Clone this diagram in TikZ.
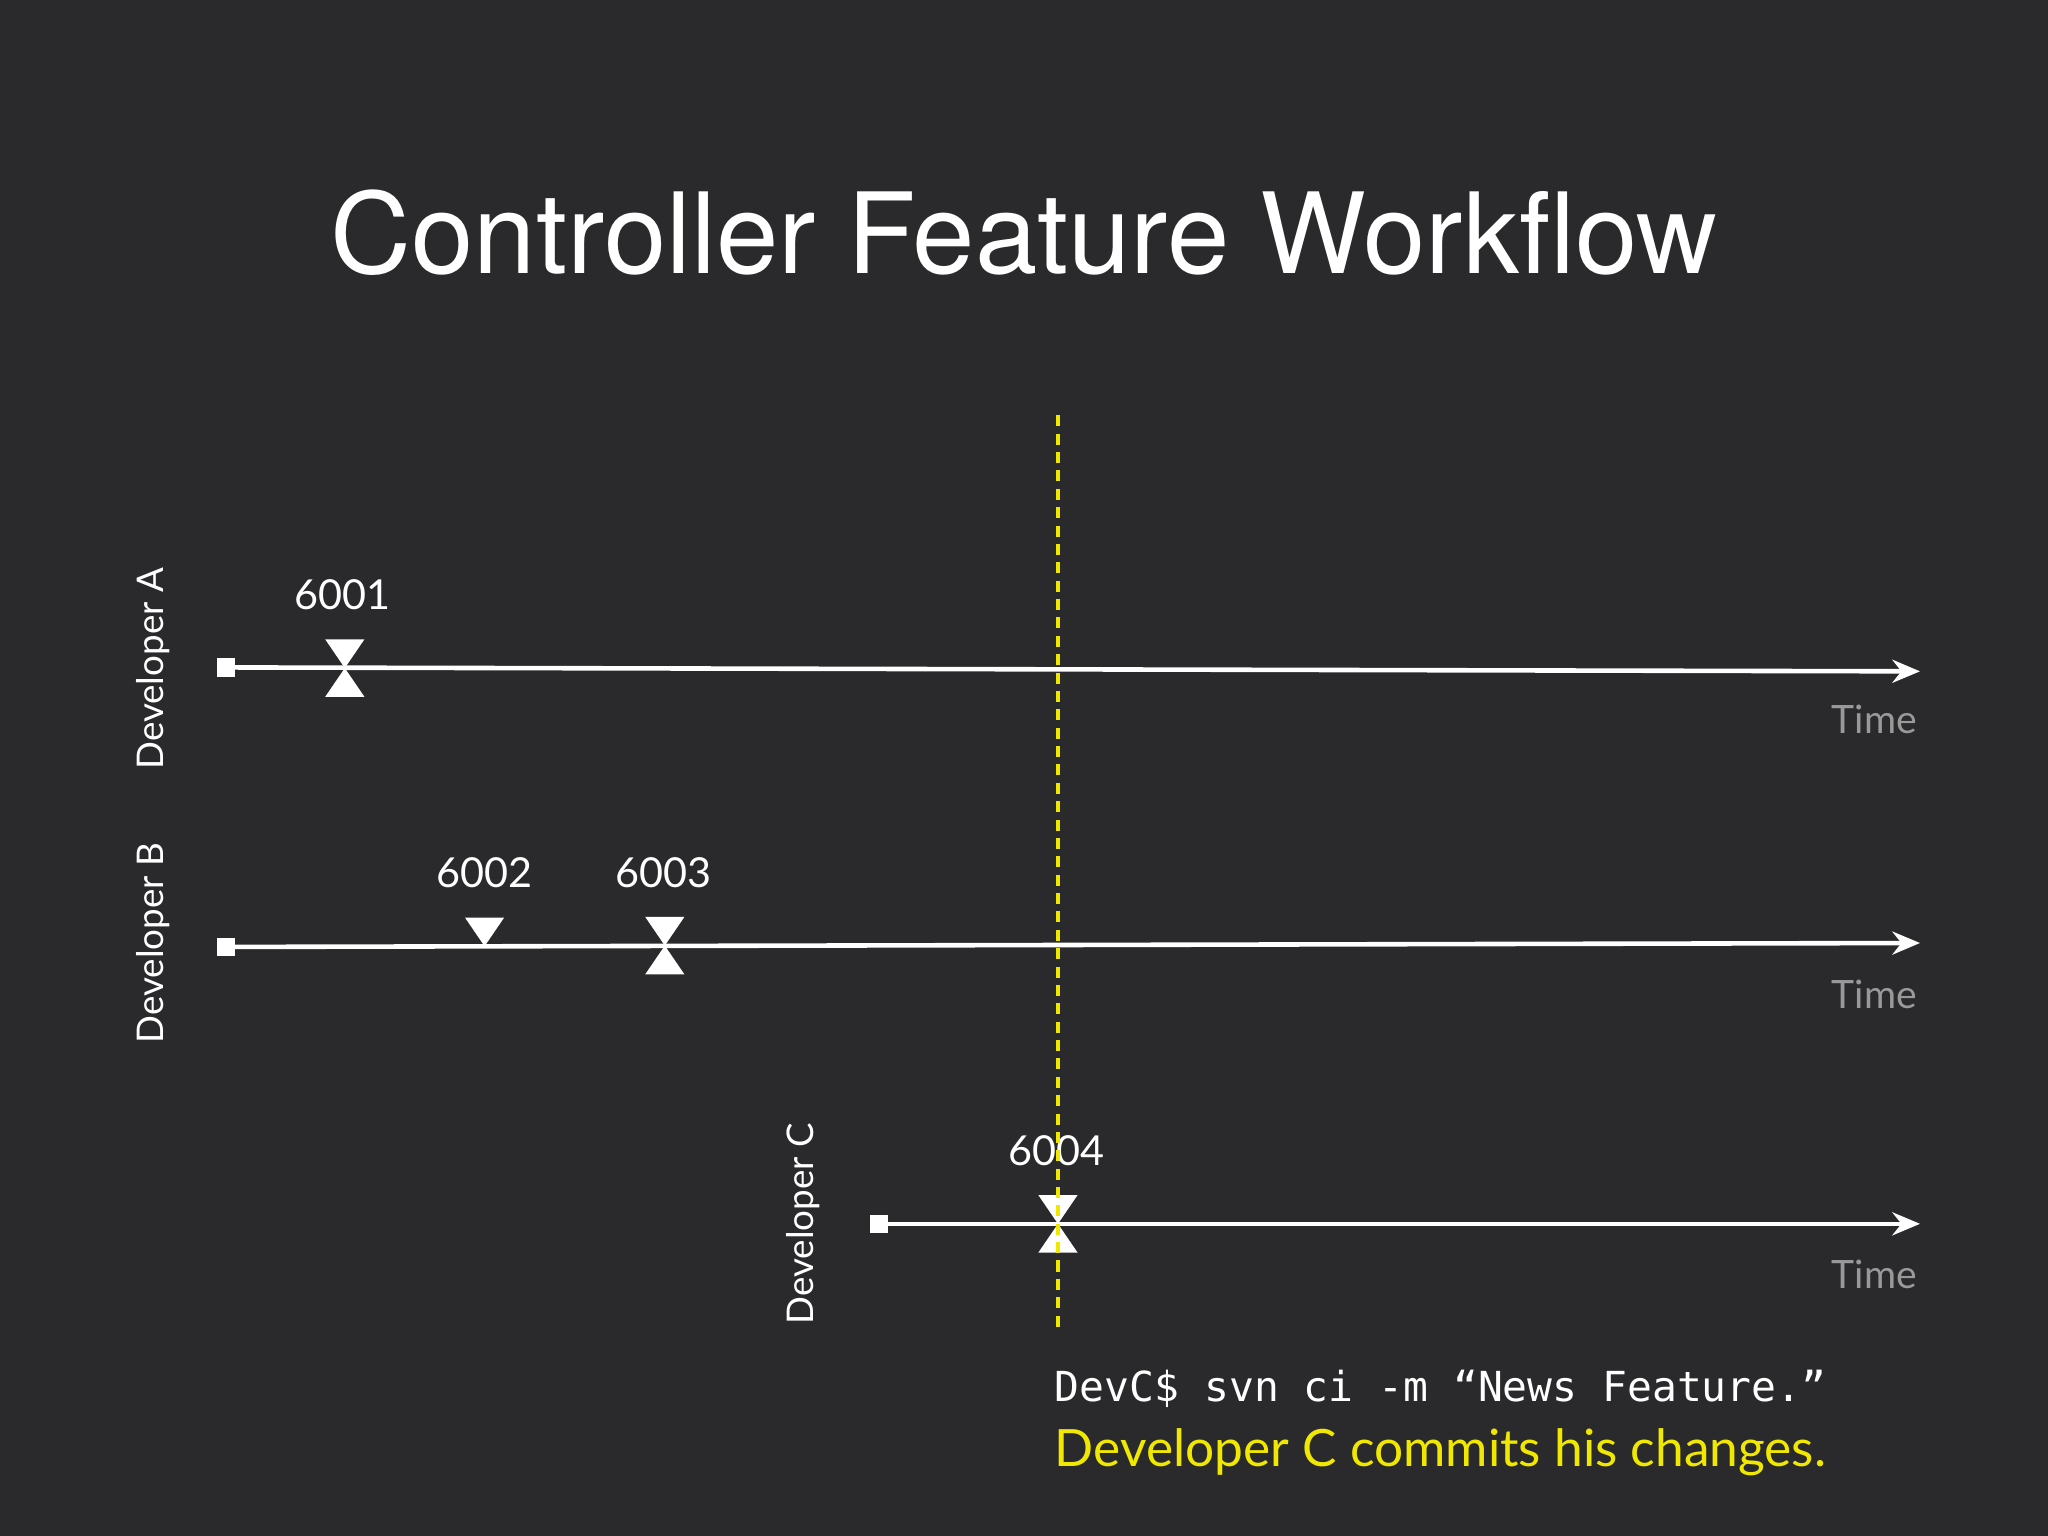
\documentclass[tikz,border=0pt]{standalone}
\usepackage{fontspec}
\usetikzlibrary{arrows.meta}
\setmainfont{Lato}
\newfontfamily\titlefont{TeX Gyre Heros}
\setmonofont{DejaVu Sans Mono}
\definecolor{bg}{HTML}{2A2A2C}
\definecolor{yel}{HTML}{F0E800}
\begin{document}
\begin{tikzpicture}[x=0.01cm,y=-0.01cm,
  tl/.style={draw=white,line width=1pt,-{Stealth[length=6pt,width=5pt]}},
  sq/.style={fill=white,minimum size=0.14cm,inner sep=0pt},
  num/.style={text=white,font=\fontsize{9}{11}\selectfont},
  dev/.style={text=white,rotate=90,font=\fontsize{8}{10}\selectfont},
  tm/.style={text=gray!80,font=\fontsize{8.5}{10}\selectfont}]
\fill[bg] (0,0) rectangle (1568,1176);
\useasboundingbox (0,0) rectangle (1568,1176);
\node[text=white,font=\titlefont\fontsize{24.4}{28}\selectfont] (title) at (784,178) {Controller Feature Workflow};
\newcommand\dn[1]{\fill[white] (#1)+(-15,-22) -- +(15,-22) -- +(0,0) -- cycle;}
\newcommand\up[1]{\fill[white] (#1)+(-15,22) -- +(15,22) -- +(0,0) -- cycle;}
% A
\node[sq] (sa) at (173,511) {};
\coordinate (ea) at (1470,514);
\draw[tl] (sa.center) -- (ea);
\coordinate (m1) at (264,511.5);
\dn{m1}\up{m1}
\node[num] (n1) at (262,455) {6001};
\node[dev] (da) at (117,512) {Developer A};
\node[tm] (ta) at (1435,551) {Time};
% B
\node[sq] (sb) at (173,725) {};
\coordinate (eb) at (1470,722);
\draw[tl] (sb.center) -- (eb);
\coordinate (m2) at (371,724.5);
\dn{m2}
\coordinate (m3) at (509,724);
\dn{m3}\up{m3}
\node[num] (n2) at (371,668) {6002};
\node[num] (n3) at (508,668) {6003};
\node[dev] (db) at (117,722) {Developer B};
\node[tm] (tb) at (1435,761) {Time};
% C
\node[sq] (sc) at (673,937) {};
\coordinate (ec) at (1470,937);
\draw[tl] (sc.center) -- (ec);
\coordinate (m4) at (810,937);
\dn{m4}\up{m4}
\node[num] (n4) at (809,881) {6004};
\node[dev] (dc) at (615,937) {Developer C};
\node[tm] (tc) at (1435,976) {Time};
% dashed
\coordinate (d1) at (810,318);
\coordinate (d2) at (810,1020);
\draw[yel,line width=1pt,dash pattern=on 2.4pt off 1.6pt] (d1) -- (d2);
\node[anchor=west,text=white,inner sep=0pt,font=\ttfamily\fontsize{9}{11}\selectfont] (cmd) at (807,1063) {DevC\$ svn ci -m “News Feature.”};
\node[anchor=west,text=yel,inner sep=0pt,font=\fontsize{11.2}{13}\selectfont] (cap) at (807,1112) {Developer C commits his changes.};
\end{tikzpicture}
\end{document}
